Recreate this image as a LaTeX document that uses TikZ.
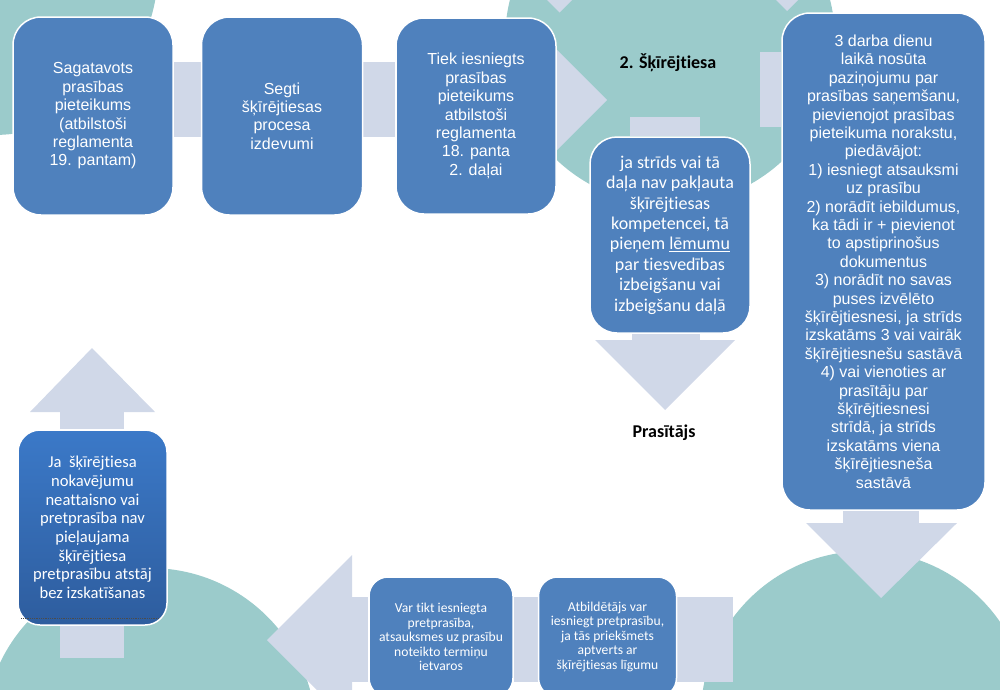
\documentclass[tikz,border=0pt]{standalone}
\usepackage{fontspec}
\setmainfont{Liberation Sans}
\newfontfamily\calibri[Ligatures={NoCommon}]{Carlito}
\usetikzlibrary{positioning}
\usetikzlibrary{backgrounds}

\definecolor{boxblue}{HTML}{4F81BD}
\definecolor{bubbleteal}{HTML}{9BCBCB}
\definecolor{arrowgrey}{HTML}{D0D8E8}
\definecolor{jatop}{HTML}{3B79C8}
\definecolor{jabottom}{HTML}{2E5D9E}

\begin{document}
\begin{tikzpicture}[x=1pt, y=-1pt,
  stage/.style={rectangle, draw=white, line width=1.5pt, fill=boxblue, text=white, align=center, rounded corners=28pt, inner sep=3pt},
  arialtext/.style={font=\fontsize{16}{18.4}\selectfont},
  calibritext/.style={font=\calibri\fontsize{18}{20.4}\selectfont},
  smalltext/.style={font=\calibri\fontsize{13.6}{14.5}\selectfont},
  bubble/.style={fill=bubbleteal},
  blockarrow/.style={fill=arrowgrey},
  caption/.style={font=\calibri\bfseries\fontsize{18}{21}\selectfont, text=black}
]
\useasboundingbox (0,0) rectangle (1000,689);
\clip (0,0) rectangle (1000,689);

% Top row
\node[stage, arialtext, minimum width=160pt, minimum height=198pt] (sagatavots) at (93,116) {Sagatavots\\prasības\\pieteikums\\(atbilstoši\\reglamenta\\19. pantam)};
\node[stage, arialtext, minimum width=161pt, minimum height=198pt, right=27pt of sagatavots] (segti) {Segti\\šķīrējtiesas\\procesa\\izdevumi};
\node[stage, arialtext, minimum width=160pt, minimum height=196pt, right=32pt of segti] (iesniegts) {Tiek iesniegts\\prasības\\pieteikums\\atbilstoši\\reglamenta\\18. panta\\2. daļai};

\node[caption] (tiesa) at (668,63) {2. Šķīrējtiesa};
\node[stage, calibritext, minimum width=160pt, minimum height=196pt, rounded corners=27pt] (lemums) at (670,235) {ja strīds vai tā\\daļa nav pakļauta\\šķīrējtiesas\\kompetencei, tā\\pieņem \underline{lēmumu}\\par tiesvedības\\izbeigšanu vai\\izbeigšanu daļā};
\node[caption] (prasitajs) at (664,433) {Prasītājs};

% Right column
\node[stage, arialtext, minimum width=203pt, minimum height=497pt] (pazinojums) at (883.5,261.5) {3 darba dienu\\laikā nosūta\\paziņojumu par\\prasības saņemšanu,\\pievienojot prasības\\pieteikuma norakstu,\\piedāvājot:\\1) iesniegt atsauksmi\\uz prasību\\2) norādīt iebildumus,\\ka tādi ir + pievienot\\to apstiprinošus\\dokumentus\\3) norādīt no savas\\puses izvēlēto\\šķīrējtiesnesi, ja strīds\\izskatāms 3 vai vairāk\\šķīrējtiesnešu sastāvā\\4) vai vienoties ar\\prasītāju par\\šķīrējtiesnesi\\strīdā, ja strīds\\izskatāms viena\\šķīrējtiesneša\\sastāvā};

% Bottom row
\node[stage, smalltext, minimum width=144pt, minimum height=120pt, rounded corners=19pt] (pretprasiba) at (441,637) {Var tikt iesniegta\\pretprasība,\\atsauksmes uz prasību\\noteikto termiņu\\ietvaros};
\node[stage, smalltext, minimum width=138pt, minimum height=120pt, rounded corners=19pt, right=24pt of pretprasiba] (atbildetajs) {Atbildētājs var\\iesniegt pretprasību,\\ja tās priekšmets\\aptverts ar\\šķīrējtiesas līgumu};

\node[stage, font=\calibri\fontsize{16.6}{18.7}\selectfont, minimum width=149pt, minimum height=195pt, rounded corners=22pt, top color=jatop, bottom color=jabottom] (atstaj) at (92.5,527.5) {Ja~ šķīrējtiesa\\nokavējumu\\neattaisno vai\\pretprasība nav\\pieļaujama\\šķīrējtiesa\\pretprasību atstāj\\bez izskatīšanas};
\draw[black!70, densely dotted, line width=0.8pt] ([shift={(4,-7)}]atstaj.south west) -- ([shift={(-8,-7)}]atstaj.south east);

\begin{scope}[on background layer]
\clip (0,0) rectangle (1000,689);
% Circles
\fill[bubble] (-7,-30) circle (165pt);
\fill[bubble] (670,40) circle (165pt);
\fill[bubble] (865,715) circle (164pt);
\fill[bubble] (150,734) circle (166pt);

% Block arrows
\fill[blockarrow] (547,0) -- (572,0) -- (559.5,12.5) -- cycle;
\fill[blockarrow] (776,0) -- (798,0) -- (787,11) -- cycle;
\fill[blockarrow] (sagatavots.east |- 0,62) rectangle (segti.west |- 0,137);
\fill[blockarrow] (segti.east |- 0,62) rectangle (iesniegts.west |- 0,137);
\fill[blockarrow] (540,33) -- (607,100) -- (540,167) -- cycle;
\fill[blockarrow] (760,52) rectangle (pazinojums.west |- 0,127);
\fill[blockarrow] (630,117) rectangle (lemums.north -| 700,0);
\fill[blockarrow] (lemums.south -| 632,0) rectangle (700,341);
\fill[blockarrow] (595,340) -- (735,340) -- (665,410) -- cycle;
\fill[blockarrow] (pazinojums.south -| 843,0) rectangle (919,524);
\fill[blockarrow] (806,523) -- (957,523) -- (881,598) -- cycle;
\fill[blockarrow] (atbildetajs.east |- 0,597) rectangle (733,682);
\fill[blockarrow] (pretprasiba.east |- 0,597) rectangle (atbildetajs.west |- 0,682);
\fill[blockarrow] (352,597) rectangle (pretprasiba.west |- 0,682);
\fill[blockarrow] (352,555) -- (267,640) -- (352,725) -- cycle;
\fill[blockarrow] (atstaj.south -| 60,0) rectangle (124,658);
\fill[blockarrow] (60,412) rectangle (atstaj.north -| 124,0);
\fill[blockarrow] (30,412) -- (155,412) -- (92,348) -- cycle;
\end{scope}

\end{tikzpicture}
\end{document}
